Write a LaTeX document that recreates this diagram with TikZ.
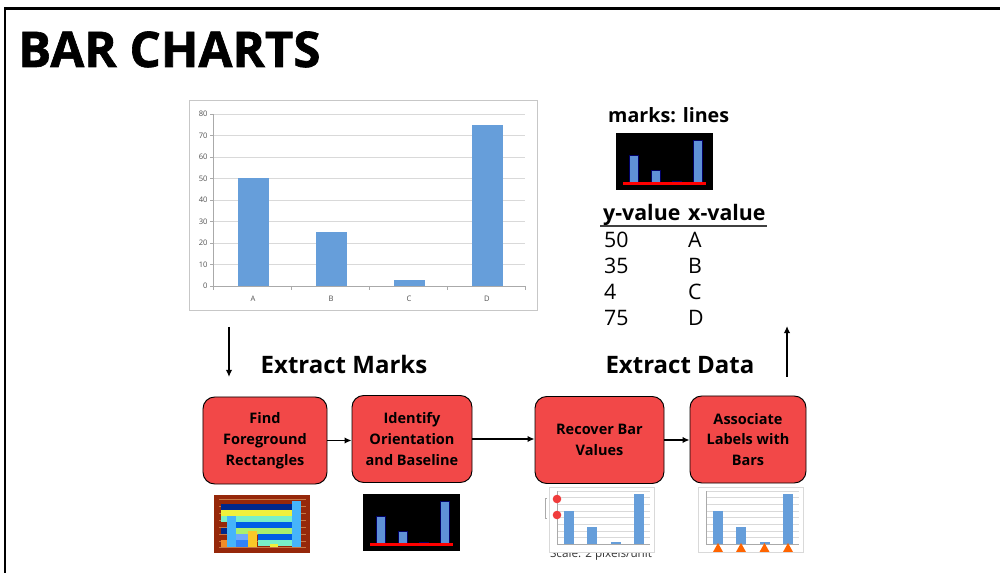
\documentclass[tikz,border=0pt]{standalone}
\usepackage{fontspec}
\setmainfont{Open Sans}
\newfontfamily\titlefont[BoldFeatures={FakeBold=1.3}]{Open Sans}
\usetikzlibrary{arrows.meta,positioning}

\definecolor{boxred}{RGB}{242,72,72}
\definecolor{barblue}{RGB}{102,158,218}
\definecolor{markblue}{RGB}{95,145,215}
\definecolor{gridgray}{RGB}{217,217,217}
\definecolor{axisgray}{RGB}{170,170,170}
\definecolor{labgray}{RGB}{80,80,80}
\definecolor{rustbg}{RGB}{150,40,10}
\definecolor{rustline}{RGB}{200,120,70}
\definecolor{navy}{RGB}{0,40,140}
\definecolor{lemon}{RGB}{240,240,60}
\definecolor{aqua}{RGB}{120,240,200}
\definecolor{royal}{RGB}{0,95,230}
\definecolor{lime}{RGB}{170,240,110}
\definecolor{sky}{RGB}{70,180,250}
\definecolor{midblue}{RGB}{50,130,250}
\definecolor{amber}{RGB}{250,200,40}
\definecolor{tangerine}{RGB}{240,140,40}
\definecolor{dotred}{RGB}{240,60,60}
\definecolor{triorange}{RGB}{255,100,0}

\begin{document}
\begin{tikzpicture}[x=0.03cm,y=-0.03cm,
    title/.style={font=\titlefont\fontsize{42}{42}\selectfont\bfseries},
    head/.style={font=\fontsize{20.5}{24}\selectfont\bfseries},
    marklab/.style={font=\fontsize{16.8}{20}\selectfont\bfseries, inner sep=0pt},
    tabhead/.style={font=\fontsize{18.2}{22}\selectfont\bfseries, inner sep=0pt},
    tabcell/.style={font=\fontsize{18.2}{22}\selectfont, inner sep=0pt},
    ticklab/.style={font=\fontsize{6.5}{7}\selectfont, text=labgray, inner sep=1pt},
    stepbox/.style={draw=black, fill=boxred, rounded corners=10pt, line width=0.8pt,
        align=center, minimum height=2.61cm, inner sep=2pt,
        font=\fontsize{12.4}{17.8}\selectfont\bfseries},
    flow/.style={line width=1.5pt, -{Latex[length=6pt,width=5.5pt]}},
    grid line/.style={draw=gridgray, line width=0.5pt},
    axis line/.style={draw=axisgray, line width=0.5pt},
    markbar/.style={fill=markblue, draw=black!60!blue, line width=0.4pt},
    red base/.style={draw=red, line width=2.4pt}
]
    \useasboundingbox (0,0) rectangle (1000,573);

    % 枠
    \draw[line width=2pt] (5,573) -- (5,8.5) -- (1000,8.5);

    % タイトル
    \node[title, anchor=base west, inner sep=0pt] (title) at (18,67) {BAR CHARTS};

    % 元のグラフ
    \draw[draw=gridgray!80!gray, line width=0.6pt] (189,100) rectangle (537,310);
    \begin{scope}[shift={(213,286)}, y=0.0645cm]
        \foreach \v in {10,20,...,80}
            \draw[grid line] (0,\v) -- (312,\v);
        \foreach \v in {0,10,...,80} {
            \draw[axis line] (-3,\v) -- (0,\v);
            \node[ticklab, anchor=east] (yl\v) at (-4,\v) {\v};
        }
        \draw[axis line] (0,0) -- (312,0);
        \draw[axis line] (0,0) -- (0,80);
        \foreach \t in {0,78,...,312}
            \draw[axis line] (\t,0) -- (\t,-2);
        \foreach \v [count=\i] in {50,25,3,75}
            \fill[barblue] ({78*\i-38-15.5},0) rectangle ++(31,\v);
        \foreach \c [count=\i] in {A,B,C,D}
            \node[ticklab] (xl\c) at ({78*\i-38},-6) {\c};
    \end{scope}

    % marks: lines と表
    \node[marklab, anchor=base west] (marks) at (608,123) {marks: lines};
    \node[tabhead, anchor=base west] (yhead) at (603,221) {y-value};
    \node[tabhead, anchor=base west] (xhead) at (688,221) {x-value};
    \draw[draw=black!75, line width=1.2pt] (600,226) -- (767,226);
    \foreach \yv/\xv [count=\i] in {50/A,35/B,4/C,75/D} {
        \node[tabcell, anchor=base west] (yv\i) at (604,{222+26*\i}) {\yv};
        \node[tabcell, anchor=base west] (xv\i) at (688,{222+26*\i}) {\xv};
    }

    % 黒い画像 (marks: lines と Identify の下)
    \foreach \ox/\oy in {616/133,363/494} {
        \fill[black] (\ox,\oy) rectangle ++(97,57);
        \foreach \bx/\by in {13/22,35/37,56/48.5,77/7}
            \filldraw[markbar] ({\ox+\bx},{\oy+\by}) rectangle ({\ox+\bx+9},{\oy+50});
        \draw[red base] ({\ox+7},{\oy+50.5}) -- ({\ox+90},{\oy+50.5});
    }

    % 見出し
    \node[head, anchor=base] (exmarks) at (344,374) {Extract Marks};
    \node[head, anchor=base] (exdata) at (680,374) {Extract Data};

    % 縦の矢印
    \coordinate (down top) at (229,327);
    \coordinate (down end) at (229,377);
    \coordinate (up start) at (787,377);
    \coordinate (up end) at (787,326);
    \draw[flow] (down top) -- (down end);
    \draw[flow] (up start) -- (up end);

    % 処理の箱
    \node[stepbox, minimum width=3.72cm] (find) at (265,440.5) {Find\\Foreground\\Rectangles};
    \node[stepbox, minimum width=3.6cm] (orient) at (412,439) {Identify\\Orientation\\and Baseline};
    \node[stepbox, minimum width=3.87cm] (recover) at (599.5,440) {Recover Bar\\Values};
    \node[stepbox, minimum width=3.48cm] (assoc) at (748,439.5) {Associate\\Labels with\\Bars};

    \draw[flow] (find.east) -- (find.east -| orient.west);
    \draw[flow] (orient.east) -- (orient.east -| recover.west);
    \draw[flow] (recover.east) -- (recover.east -| assoc.west);

    % 色付きの長方形 (Find の下)
    \fill[rustbg] (214,495) rectangle (310,553);
    \foreach \gy in {499,506,513,520,527,534,541,547}
        \draw[draw=rustline, line width=0.4pt] (219,\gy) -- (306,\gy);
    \fill[navy] (221,504) rectangle (292,510);
    \fill[lemon] (221,510) rectangle (292,516);
    \fill[aqua] (221,516) rectangle (292,522);
    \fill[royal] (236,522) rectangle (292,528);
    \fill[navy] (221,528) rectangle (227,534);
    \fill[lime] (236,528) rectangle (292,534);
    \fill[royal] (258,534) rectangle (292,540);
    \fill[aqua] (258,540) rectangle (292,546);
    \fill[sky] (227,516) rectangle (236,547);
    \fill[midblue!70!white] (236,534) rectangle (248,540);
    \fill[midblue] (236,540) rectangle (248,547);
    \fill[amber] (248,531) rectangle (257,547);
    \fill[lemon] (270,544) rectangle (278,547);
    \fill[tangerine] (221,540) rectangle (227,547);
    \fill[sky] (292,501) rectangle (301,547);

    % Scale の文字 (画像の下に隠れる)
    \node[font=\fontsize{10}{12}\selectfont, text=black!80, anchor=base] (scale) at (601,558) {Scale: 2 pixels/unit};

    % 小さいグラフ (Recover と Associate の下)
    \foreach \ox in {549,698} {
        \filldraw[fill=white, draw=gridgray, line width=0.6pt] (\ox,487) rectangle ++(105,65);
        \foreach \v in {10,20,...,80}
            \draw[grid line, line width=0.3pt] ({\ox+8},{544-0.663*\v}) -- ({\ox+101},{544-0.663*\v});
        \draw[axis line, line width=0.3pt] ({\ox+8},544) -- ({\ox+101},544);
        \draw[axis line, line width=0.3pt] ({\ox+8},544) -- ({\ox+8},491);
        \foreach \cx/\v in {20/50,43/25,66.5/3,90/75}
            \fill[barblue] ({\ox+\cx-5},544) rectangle ({\ox+\cx+5},{544-0.663*\v});
    }
    \draw[draw=axisgray, line width=0.3pt] (547,498) -- (545,498) -- (545,518) -- (547,518);
    \fill[dotred] (557,499) circle (4.3);
    \fill[dotred] (557,515) circle (4.3);
    \foreach \cx in {20,43,66.5,90}
        \fill[triorange] ({698+\cx-5},552) -- ({698+\cx+5},552) -- ({698+\cx},543) -- cycle;

\end{tikzpicture}
\end{document}
